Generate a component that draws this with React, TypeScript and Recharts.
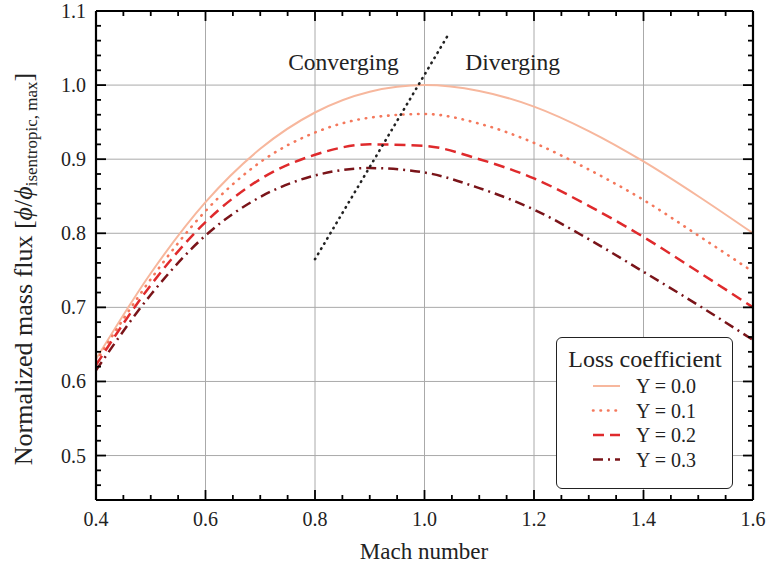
import { LineChart, Line, XAxis, YAxis, ReferenceLine, ReferenceDot, Label } from "recharts"

// Mach number samples
const mach = [0.4, 0.5, 0.6, 0.7, 0.8, 0.9, 1.0, 1.1, 1.2, 1.3, 1.4, 1.5, 1.6]

// normalized mass flux per loss coefficient
const flux00 = [0.630, 0.746, 0.842, 0.914, 0.963, 0.991, 1.000, 0.992, 0.971, 0.938, 0.897, 0.850, 0.800]
const flux01 = [0.627, 0.738, 0.830, 0.896, 0.936, 0.956, 0.961, 0.948, 0.922, 0.886, 0.845, 0.797, 0.748]
const flux02 = [0.622, 0.730, 0.815, 0.873, 0.906, 0.920, 0.918, 0.900, 0.874, 0.837, 0.795, 0.748, 0.700]
const flux03 = [0.615, 0.717, 0.797, 0.849, 0.878, 0.888, 0.882, 0.861, 0.832, 0.792, 0.748, 0.703, 0.656]

// sonic (throat) line
const sonicMach = [0.8, 1.045]
const sonicFlux = [0.765, 1.07]

const xTicks = [0.4, 0.45, 0.5, 0.55, 0.6, 0.65, 0.7, 0.75, 0.8, 0.85, 0.9, 0.95, 1.0, 1.05, 1.1, 1.15, 1.2, 1.25, 1.3, 1.35, 1.4, 1.45, 1.5, 1.55, 1.6]
const yTicks = [0.44, 0.46, 0.48, 0.5, 0.52, 0.54, 0.56, 0.58, 0.6, 0.62, 0.64, 0.66, 0.68, 0.7, 0.72, 0.74, 0.76, 0.78, 0.8, 0.82, 0.84, 0.86, 0.88, 0.9, 0.92, 0.94, 0.96, 0.98, 1.0, 1.02, 1.04, 1.06, 1.08, 1.1]
const xGrid = [0.6, 0.8, 1.0, 1.2, 1.4]
const yGrid = [0.5, 0.6, 0.7, 0.8, 0.9, 1.0]

const notes = [
  { text: "Converging", x: 0.852, y: 1.031 },
  { text: "Diverging", x: 1.161, y: 1.031 },
]

const series = [
  { key: "y0", name: "Y = 0.0", color: "#f7b79d", dash: undefined, cap: "butt", width: 2 },
  { key: "y1", name: "Y = 0.1", color: "#f4785c", dash: "0.5 7", cap: "round", width: 2.6 },
  { key: "y2", name: "Y = 0.2", color: "#df2a2c", dash: "11 6", cap: "butt", width: 2.5 },
  { key: "y3", name: "Y = 0.3", color: "#7a1419", dash: "10 5 2 5", cap: "butt", width: 2.5 },
]

const data = mach.map((m, i) => ({ m, y0: flux00[i], y1: flux01[i], y2: flux02[i], y3: flux03[i] }))
const sonic = sonicMach.map((m, i) => ({ m, s: sonicFlux[i] }))

const FONT = "'Liberation Serif', 'Times New Roman', serif"
const TICK = "#000"

const isMajor = (v: number, step: number) => Math.abs(v / step - Math.round(v / step)) < 1e-6

const BottomTick = (props: any) => {
  const { x, y, payload } = props
  const major = isMajor(payload.value, 0.2)
  return (
    <g>
      <path d={`M${x},${y} V${y - (major ? 10 : 5)}`} stroke={TICK} strokeWidth={1.8} fill="none" />
      {major && (
        <text x={x} y={y + 26} textAnchor="middle" fontFamily={FONT} fontSize={20} fill="#222">
          {payload.value.toFixed(1)}
        </text>
      )}
    </g>
  )
}

const TopTick = (props: any) => {
  const { x, y, payload } = props
  const major = isMajor(payload.value, 0.2)
  return <path d={`M${x},${y} V${y + (major ? 10 : 5)}`} stroke={TICK} strokeWidth={1.8} fill="none" />
}

const LeftTick = (props: any) => {
  const { x, y, payload } = props
  const major = isMajor(payload.value, 0.1)
  return (
    <g>
      <path d={`M${x},${y} H${x + (major ? 10 : 5)}`} stroke={TICK} strokeWidth={1.8} fill="none" />
      {major && (
        <text x={x - 10} y={y + 7} textAnchor="end" fontFamily={FONT} fontSize={20} fill="#222">
          {payload.value.toFixed(1)}
        </text>
      )}
    </g>
  )
}

const RightTick = (props: any) => {
  const { x, y, payload } = props
  const major = isMajor(payload.value, 0.1)
  return <path d={`M${x},${y} H${x - (major ? 10 : 5)}`} stroke={TICK} strokeWidth={1.8} fill="none" />
}

const YTitle = () => (
  <text transform="translate(32,269) rotate(-90)" textAnchor="middle" fontFamily={FONT} fontSize={26} fill="#222">
    Normalized mass flux [<tspan fontStyle="italic">ϕ</tspan>/<tspan fontStyle="italic">ϕ</tspan>
    <tspan dy={5} fontSize={17}>isentropic, max</tspan>
    <tspan dy={-5}>]</tspan>
  </text>
)

const XTitle = () => (
  <text x={424} y={559} textAnchor="middle" fontFamily={FONT} fontSize={23} fill="#222">
    Mach number
  </text>
)

function LegendBox() {
  return (
    <div
      style={{
        position: "absolute",
        left: 556,
        top: 337,
        width: 175,
        height: 150,
        border: "1.6px solid #222",
        borderRadius: 6,
        background: "#fff",
      }}
    >
      <svg width={175} height={150}>
        <text x={88} y={29} textAnchor="middle" fontFamily={FONT} fontSize={24} fill="#222">
          Loss coefficient
        </text>
        {series.map((s, i) => (
          <g key={s.key}>
            <line
              x1={36}
              x2={63}
              y1={48 + i * 24.5}
              y2={48 + i * 24.5}
              stroke={s.color}
              strokeWidth={s.width}
              strokeDasharray={s.dash}
              strokeLinecap={s.cap as any}
            />
            <text x={79} y={55 + i * 24.5} fontFamily={FONT} fontSize={20} fill="#222">
              {s.name}
            </text>
          </g>
        ))}
      </svg>
    </div>
  )
}

export default function App() {
  return (
    <div style={{ position: "absolute", left: 0, top: 0, width: 769, height: 572, background: "#fff" }}>
      <LineChart width={769} height={572} data={data} margin={{ top: 10, right: 15, left: 0, bottom: 0 }}>
        {xGrid.map((v) => (
          <ReferenceLine key={"gx" + v} x={v} xAxisId="b" yAxisId="l" stroke="#aaaaaa" strokeWidth={1} />
        ))}
        {yGrid.map((v) => (
          <ReferenceLine key={"gy" + v} y={v} xAxisId="b" yAxisId="l" stroke="#aaaaaa" strokeWidth={1} />
        ))}
        <XAxis
          xAxisId="b"
          dataKey="m"
          type="number"
          domain={[0.4, 1.6]}
          ticks={xTicks}
          interval={0}
          height={72}
          tickSize={0}
          tickMargin={0}
          tickLine={false}
          tick={<BottomTick />}
          axisLine={{ stroke: "#000", strokeWidth: 2.2 }}
          allowDataOverflow
        >
          <Label content={<XTitle />} />
        </XAxis>
        <XAxis
          xAxisId="t"
          orientation="top"
          dataKey="m"
          type="number"
          domain={[0.4, 1.6]}
          ticks={xTicks}
          interval={0}
          height={1}
          tickSize={0}
          tickMargin={0}
          tickLine={false}
          tick={<TopTick />}
          axisLine={{ stroke: "#000", strokeWidth: 2.2 }}
          allowDataOverflow
        />
        <YAxis
          yAxisId="l"
          type="number"
          domain={[0.44, 1.1]}
          ticks={yTicks}
          interval={0}
          width={96}
          tickSize={0}
          tickMargin={0}
          tickLine={false}
          tick={<LeftTick />}
          axisLine={{ stroke: "#000", strokeWidth: 2.2 }}
          allowDataOverflow
        >
          <Label content={<YTitle />} />
        </YAxis>
        <YAxis
          yAxisId="r"
          orientation="right"
          type="number"
          domain={[0.44, 1.1]}
          ticks={yTicks}
          interval={0}
          width={1}
          tickSize={0}
          tickMargin={0}
          tickLine={false}
          tick={<RightTick />}
          axisLine={{ stroke: "#000", strokeWidth: 2.2 }}
          allowDataOverflow
        />
        {series.map((s) => (
          <Line
            key={s.key}
            xAxisId="b"
            yAxisId="l"
            type="monotone"
            dataKey={s.key}
            name={s.name}
            stroke={s.color}
            strokeWidth={s.width}
            strokeDasharray={s.dash}
            strokeLinecap={s.cap as any}
            dot={false}
            activeDot={false}
            isAnimationActive={false}
          />
        ))}
        <Line
          xAxisId="b"
          yAxisId="l"
          data={sonic}
          dataKey="s"
          type="linear"
          stroke="#222"
          strokeWidth={2.6}
          strokeDasharray="0.5 5.5"
          strokeLinecap="round"
          dot={false}
          activeDot={false}
          isAnimationActive={false}
        />
        {notes.map((n) => (
          <ReferenceDot
            key={n.text}
            x={n.x}
            y={n.y}
            xAxisId="b"
            yAxisId="l"
            r={0}
            fill="none"
            stroke="none"
            label={{ value: n.text, position: "center", fontFamily: FONT, fontSize: 23.5, fill: "#222" }}
          />
        ))}
      </LineChart>
      <LegendBox />
    </div>
  )
}
